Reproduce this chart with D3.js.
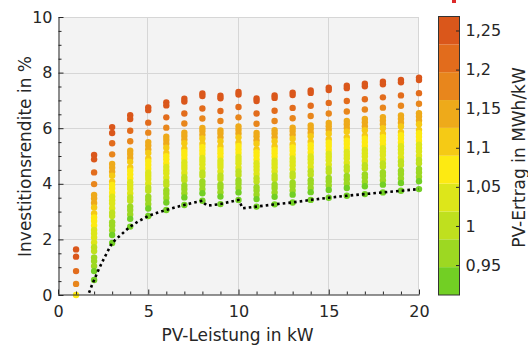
<!DOCTYPE html>
<html><head><meta charset="utf-8">
<script src="https://cdn.jsdelivr.net/npm/d3@7"></script>
<style>
html,body{margin:0;padding:0;background:#fff;}
svg{display:block;font-family:"DejaVu Sans",sans-serif;}
</style></head><body>
<svg id="chart" width="528" height="350"></svg>
<script>
// ---------------- data ----------------
const pvPower = [1,2,3,4,5,6,7,8,9,10,11,12,13,14,15,16,17,18,19,20];
const pvYield = [1.268,1.254,1.218,1.185,1.154,1.143,1.131,1.118,1.101,1.088,1.079,1.067,1.054,1.044,1.033,1.019,1.005,0.995,0.976,0.965,0.951,0.937,0.912];

const r01 = [1.64,1.38,0.86,0.40,null,null,null,null,null,null,0.00,null,null,null,null,null,null,null,null,null,null,null,null];
const r02 = [5.04,4.88,4.41,3.99,3.60,3.47,3.31,3.15,2.93,2.79,2.66,2.50,2.34,2.21,2.07,1.89,1.72,1.58,1.35,1.22,1.04,0.86,0.54];
const r03 = [6.04,5.83,5.46,5.06,4.71,4.58,4.43,4.29,4.08,3.96,3.83,3.68,3.54,3.41,3.29,3.12,2.96,2.84,2.62,2.50,2.33,2.16,1.87];
const r04 = [6.47,6.33,5.91,5.53,5.19,5.07,4.93,4.79,4.59,4.47,4.34,4.20,4.06,3.94,3.82,3.66,3.51,3.39,3.18,3.06,2.90,2.74,2.46];
const r05 = [6.75,6.65,6.20,5.84,5.50,5.38,5.24,5.11,4.91,4.80,4.68,4.54,4.40,4.29,4.17,4.01,3.86,3.75,3.54,3.43,3.27,3.11,2.84];
const r06 = [6.93,6.82,6.39,6.02,5.69,5.58,5.44,5.30,5.11,4.99,4.88,4.74,4.61,4.49,4.38,4.22,4.07,3.96,3.76,3.64,3.49,3.33,3.06];
const r07 = [7.06,6.96,6.53,6.17,5.84,5.72,5.59,5.46,5.26,5.15,5.04,4.90,4.77,4.65,4.54,4.39,4.24,4.13,3.93,3.81,3.66,3.51,3.24];
const r08 = [7.25,7.16,6.71,6.35,6.01,5.90,5.76,5.63,5.44,5.32,5.20,5.07,4.93,4.82,4.70,4.55,4.40,4.29,4.08,3.97,3.81,3.66,3.39];
const r09 = [7.17,7.08,6.62,6.26,5.92,5.81,5.67,5.53,5.34,5.22,5.10,4.97,4.83,4.71,4.60,4.44,4.29,4.17,3.97,3.86,3.70,3.54,3.27];
const r10 = [7.30,7.21,6.76,6.39,6.06,5.94,5.81,5.67,5.48,5.36,5.24,5.11,4.97,4.86,4.74,4.58,4.44,4.32,4.12,4.00,3.85,3.69,3.42];
const r11 = [7.07,6.98,6.53,6.16,5.83,5.71,5.57,5.44,5.24,5.13,5.01,4.87,4.74,4.62,4.50,4.35,4.20,4.08,3.88,3.76,3.61,3.45,3.18];
const r12 = [7.18,7.09,6.63,6.26,5.93,5.81,5.67,5.53,5.34,5.22,5.10,4.97,4.83,4.71,4.59,4.44,4.29,4.17,3.97,3.85,3.69,3.53,3.26];
const r13 = [7.28,7.19,6.73,6.36,6.02,5.90,5.76,5.62,5.42,5.31,5.19,5.05,4.91,4.79,4.67,4.52,4.36,4.25,4.04,3.92,3.76,3.61,3.33];
const r14 = [7.36,7.27,6.81,6.44,6.10,5.98,5.84,5.71,5.51,5.39,5.27,5.13,4.98,4.88,4.76,4.60,4.45,4.33,4.13,4.01,3.85,3.70,3.42];
const r15 = [7.46,7.37,6.91,6.53,6.19,6.07,5.94,5.80,5.60,5.48,5.36,5.22,5.08,4.97,4.85,4.69,4.54,4.42,4.21,4.09,3.94,3.78,3.50];
const r16 = [7.53,7.44,6.98,6.60,6.26,6.14,6.01,5.87,5.67,5.55,5.43,5.29,5.15,5.04,4.92,4.76,4.61,4.49,4.28,4.16,4.01,3.85,3.57];
const r17 = [7.60,7.51,7.04,6.67,6.33,6.21,6.07,5.93,5.73,5.62,5.50,5.36,5.22,5.10,4.98,4.82,4.67,4.55,4.34,4.23,4.07,3.91,3.63];
const r18 = [7.67,7.58,7.11,6.74,6.40,6.28,6.14,6.00,5.80,5.68,5.56,5.42,5.28,5.16,5.04,4.88,4.73,4.61,4.41,4.29,4.13,3.97,3.69];
const r19 = [7.74,7.65,7.18,6.81,6.46,6.34,6.20,6.06,5.86,5.75,5.63,5.49,5.35,5.23,5.11,4.95,4.80,4.68,4.47,4.35,4.19,4.03,3.75];
const r20 = [7.82,7.73,7.26,6.88,6.54,6.42,6.28,6.14,5.94,5.82,5.69,5.55,5.41,5.29,5.17,5.01,4.86,4.74,4.53,4.41,4.25,4.09,3.81];
const returnsByPower = [r01,r02,r03,r04,r05,r06,r07,r08,r09,r10,r11,r12,r13,r14,r15,r16,r17,r18,r19,r20];

// lower envelope (dotted line)
const envPower  = [1.72,1.80,1.90,2.00,2.20,2.40,2.60,2.80,3.00,3.25,3.50,3.75,4.00,4.50,5.00,5.50,6.00,6.50,7.00,7.50,8.00,8.08,8.25,8.50,9.00,9.50,10.00,10.08,10.22,10.50,11,12,13,14,15,16,17,18,19,20];
const envReturn = [0.08,0.22,0.39,0.54,0.84,1.12,1.38,1.63,1.87,2.03,2.17,2.32,2.46,2.67,2.84,2.96,3.06,3.15,3.24,3.32,3.39,3.31,3.22,3.23,3.27,3.35,3.42,3.33,3.12,3.14,3.18,3.26,3.33,3.42,3.50,3.57,3.63,3.69,3.75,3.81];

// axes / colorbar
const xTicks = [0,5,10,15,20];
const xMinor = [1,2,3,4,6,7,8,9,11,12,13,14,16,17,18,19];
const yTicks = [0,2,4,6,8,10];
const yMinor = [0.5,1,1.5,2.5,3,3.5,4.5,5,5.5,6.5,7,7.5,8.5,9,9.5];
const cbMin = 0.9117, cbMax = 1.2679;
const cbTicks = [0.95,1,1.05,1.1,1.15,1.2,1.25];
const cbColors = ["#72cf24","#9dd822","#bfe01e","#dde61a","#fdea12","#f5ca15","#eeaa1a","#e8861c","#e26c1c","#da571b"];

// ---------------- drawing ----------------
const svg = d3.select("#chart");
const TXT = "#262626";
const x = d3.scaleLinear().domain([0,20]).range([58,419]);
const y = d3.scaleLinear().domain([0,10]).range([295,17]);
const color = d3.scaleQuantize().domain([cbMin,cbMax]).range(cbColors);
const loc = d3.formatLocale({decimal:",", thousands:".", grouping:[3], currency:["","€"]});
const fmt = loc.format("~g");

svg.append("rect").attr("width",528).attr("height",350).attr("fill","#fff");
svg.append("rect").attr("x",x(0)).attr("y",y(10)).attr("width",x(20)-x(0)).attr("height",y(0)-y(10)).attr("fill","#f3f3f3");

// grid
const grid = svg.append("g").attr("stroke","#d6d6d6").attr("stroke-width",1);
grid.selectAll(".gx").data(xTicks.filter(d=>d>0)).join("line")
  .attr("x1",d=>Math.round(x(d))-0.5).attr("x2",d=>Math.round(x(d))-0.5).attr("y1",y(0)).attr("y2",y(10));
grid.selectAll(".gy").data(yTicks.filter(d=>d>0)).join("line")
  .attr("y1",d=>Math.round(y(d))+0.5).attr("y2",d=>Math.round(y(d))+0.5).attr("x1",x(0)).attr("x2",x(20));

// points
const pts = [];
returnsByPower.forEach((arr,i)=>{
  arr.forEach((r,j)=>{ if(r!==null) pts.push({p:pvPower[i], r:r, yld:pvYield[j]}); });
});
svg.append("g").selectAll("circle").data(pts).join("circle")
  .attr("cx",d=>x(d.p)).attr("cy",d=>y(d.r)).attr("r",3.2)
  .attr("fill",d=>color(d.yld));

// envelope line
const line = d3.line().x((d,i)=>x(envPower[i])).y((d,i)=>y(envReturn[i]));
svg.append("path").datum(envPower).attr("d",line)
  .attr("fill","none").attr("stroke","#000").attr("stroke-width",2.6)
  .attr("stroke-dasharray","2.6,3.1");

// axes
function styleAxis(g){
  g.select(".domain").attr("stroke",TXT);
  g.selectAll(".tick line").attr("stroke",TXT);
  g.selectAll("text").attr("fill",TXT).attr("font-size",16).attr("font-family","DejaVu Sans");
}
const xAxis = svg.append("g").attr("transform","translate(0,294.5)")
  .call(d3.axisBottom(x).tickValues(xTicks).tickSize(-5).tickSizeOuter(0).tickPadding(11).tickFormat(fmt));
styleAxis(xAxis);
const xAxisMinor = svg.append("g").attr("transform","translate(0,294.5)")
  .call(d3.axisBottom(x).tickValues(xMinor).tickSize(-3).tickSizeOuter(0).tickFormat(""));
xAxisMinor.select(".domain").remove(); styleAxis(xAxisMinor);

const yAxis = svg.append("g").attr("transform","translate(58.5,0)")
  .call(d3.axisLeft(y).tickValues(yTicks).tickSize(-5).tickSizeOuter(0).tickPadding(6).tickFormat(fmt));
styleAxis(yAxis);
const yAxisMinor = svg.append("g").attr("transform","translate(58.5,0)")
  .call(d3.axisLeft(y).tickValues(yMinor).tickSize(-3).tickSizeOuter(0).tickFormat(""));
yAxisMinor.select(".domain").remove(); styleAxis(yAxisMinor);

// axis labels
svg.append("text").attr("x",237.5).attr("y",341).attr("text-anchor","middle")
  .attr("font-size",17).attr("fill",TXT).text("PV-Leistung in kW");
svg.append("text").attr("transform","translate(31,156.5) rotate(-90)").attr("text-anchor","middle")
  .attr("font-size",17).attr("fill",TXT).text("Investitionsrendite in %");

// colorbar
const cbY = d3.scaleLinear().domain([cbMin,cbMax]).range([295,16.5]);
const bounds = [cbMin, ...color.thresholds(), cbMax];
const cb = svg.append("g");
cb.selectAll("rect").data(cbColors).join("rect")
  .attr("x",439).attr("width",20)
  .attr("y",(d,i)=>cbY(bounds[i+1])).attr("height",(d,i)=>cbY(bounds[i])-cbY(bounds[i+1]))
  .attr("fill",d=>d);
cb.append("rect").attr("x",438.5).attr("y",16.5).attr("width",21).attr("height",295-16.5)
  .attr("fill","none").attr("stroke","#333").attr("stroke-width",1);
const cbAxis = svg.append("g").attr("transform","translate(459.5,0)")
  .call(d3.axisRight(cbY).tickValues(cbTicks).tickSize(-3.5).tickSizeOuter(0).tickPadding(6).tickFormat(fmt));
cbAxis.select(".domain").remove(); styleAxis(cbAxis);
svg.append("text").attr("transform","translate(525,157.5) rotate(-90)").attr("text-anchor","middle")
  .attr("font-size",17).attr("fill",TXT).text("PV-Ertrag in MWh/kW");

// small clipped red mark at the top edge
svg.append("rect").attr("x",452).attr("y",0).attr("width",4).attr("height",3).attr("fill","#dd2a2a");
</script>
</body></html>
